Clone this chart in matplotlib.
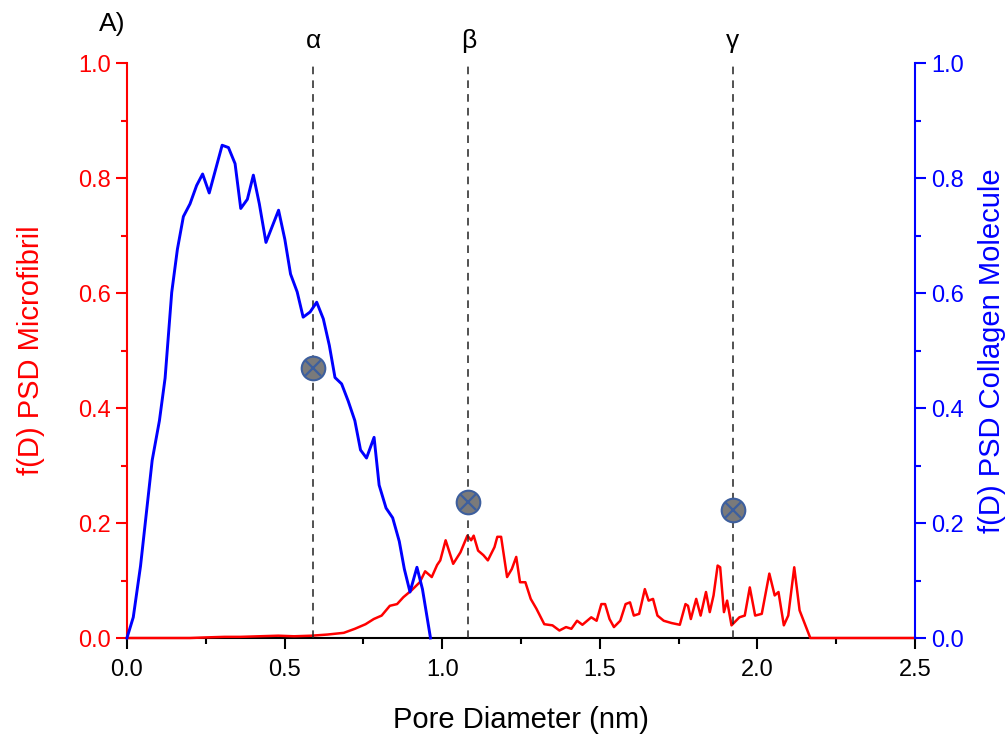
import matplotlib
matplotlib.use("Agg")
import matplotlib.pyplot as plt
from matplotlib.ticker import MultipleLocator, FormatStrFormatter

plt.rcParams['font.family'] = ['Liberation Sans', 'DejaVu Sans']

# Pore size distribution of the collagen molecule (right axis)
collagen_d = [0.0, 0.02, 0.043, 0.080, 0.103, 0.121, 0.142, 0.160, 0.179, 0.200,
              0.221, 0.240, 0.261, 0.302, 0.322, 0.343, 0.361, 0.382, 0.401, 0.420,
              0.441, 0.481, 0.501, 0.519, 0.540, 0.559, 0.581, 0.602, 0.623, 0.642,
              0.660, 0.681, 0.702, 0.723, 0.741, 0.760, 0.784, 0.800, 0.822, 0.843,
              0.864, 0.880, 0.898, 0.920, 0.9375, 0.963]
collagen_f = [0.0, 0.036, 0.125, 0.309, 0.378, 0.452, 0.601, 0.676, 0.733, 0.755,
              0.787, 0.807, 0.774, 0.857, 0.853, 0.825, 0.747, 0.763, 0.805, 0.755,
              0.688, 0.744, 0.693, 0.633, 0.602, 0.558, 0.567, 0.584, 0.555, 0.509,
              0.453, 0.442, 0.412, 0.378, 0.327, 0.313, 0.349, 0.266, 0.226, 0.209,
              0.168, 0.120, 0.080, 0.123, 0.085, 0.0]

# Pore size distribution of the microfibril (left axis)
fibril_d = [0.0, 0.10, 0.20, 0.25, 0.31, 0.36, 0.42, 0.48, 0.53, 0.585,
            0.636, 0.688, 0.723, 0.757, 0.783, 0.808, 0.834, 0.857, 0.877, 0.903,
            0.929, 0.946, 0.967, 0.984, 0.994, 1.011, 1.035, 1.058, 1.080, 1.092,
            1.100, 1.114, 1.131, 1.145, 1.166, 1.175, 1.187, 1.206, 1.221, 1.235,
            1.247, 1.264, 1.281, 1.299, 1.324, 1.350, 1.372, 1.393, 1.410, 1.428,
            1.445, 1.473, 1.490, 1.505, 1.517, 1.531, 1.545, 1.565, 1.582, 1.596,
            1.608, 1.625, 1.643, 1.655, 1.669, 1.683, 1.703, 1.728, 1.754, 1.772,
            1.780, 1.789, 1.806, 1.820, 1.837, 1.849, 1.861, 1.874, 1.882, 1.894,
            1.904, 1.918, 1.943, 1.960, 1.976, 1.993, 2.014, 2.038, 2.055, 2.067,
            2.084, 2.098, 2.117, 2.134, 2.168, 2.30, 2.50]
fibril_f = [0.0, 0.0, 0.0, 0.001, 0.002, 0.002, 0.003, 0.004, 0.003, 0.004,
            0.006, 0.009, 0.016, 0.024, 0.033, 0.039, 0.056, 0.059, 0.071, 0.083,
            0.097, 0.116, 0.106, 0.127, 0.135, 0.170, 0.129, 0.149, 0.178, 0.170,
            0.178, 0.152, 0.144, 0.135, 0.158, 0.176, 0.176, 0.106, 0.120, 0.141,
            0.097, 0.097, 0.068, 0.051, 0.024, 0.022, 0.013, 0.019, 0.016, 0.030,
            0.023, 0.036, 0.030, 0.059, 0.059, 0.033, 0.019, 0.030, 0.059, 0.062,
            0.039, 0.042, 0.085, 0.065, 0.068, 0.039, 0.030, 0.026, 0.023, 0.059,
            0.056, 0.033, 0.068, 0.039, 0.080, 0.045, 0.074, 0.126, 0.123, 0.045,
            0.065, 0.022, 0.036, 0.039, 0.088, 0.039, 0.042, 0.112, 0.074, 0.080,
            0.022, 0.039, 0.123, 0.048, 0.0, 0.0, 0.0]

# Characteristic pore sizes
peak_labels = ['α', 'β', 'γ']
peak_d = [0.591, 1.083, 1.922]
peak_f = [0.469, 0.237, 0.222]

fig = plt.figure(figsize=(10.06, 7.38), dpi=100)
ax = fig.add_axes([0.1262, 0.1355, 0.7833, 0.7791])
ax2 = ax.twinx()

red = '#ff0000'
blue = '#0000ff'

ax.plot(fibril_d, fibril_f, color=red, lw=1.8, zorder=3, clip_on=False)
ax2.plot(collagen_d, collagen_f, color=blue, lw=2.1, zorder=3, clip_on=False)

for lab, d, f in zip(peak_labels, peak_d, peak_f):
    ax2.plot([d, d], [0, 1.0], ls=(0, (5, 4)), color='#222222', lw=1.1, zorder=2)
    ax2.plot(d, f, 'o', ms=17, mfc='#7a7a7a', mec='#3d5f9e', mew=1.5, zorder=5)
    ax2.plot(d, f, 'x', ms=11.5, mec='#3d5f9e', mew=1.6, zorder=6)
    ax2.annotate(lab, (d, 1.0), xytext=(0, 7), textcoords='offset points',
                 ha='center', va='bottom', fontsize=19, color='black')

fig.text(0.112, 0.968, 'A)', fontsize=19, ha='center', va='center')

for a in (ax, ax2):
    a.set_xlim(0, 2.5)
    a.set_ylim(0, 1.0)
    a.spines['top'].set_visible(False)

ax.spines['right'].set_visible(False)
ax.spines['left'].set_color(red)
ax.spines['left'].set_linewidth(1.5)
ax.spines['bottom'].set_color('black')
ax.spines['bottom'].set_linewidth(1.5)
ax2.spines['left'].set_visible(False)
ax2.spines['bottom'].set_visible(False)
ax2.spines['right'].set_color(blue)
ax2.spines['right'].set_linewidth(1.5)

ax.xaxis.set_major_locator(MultipleLocator(0.5))
ax.xaxis.set_minor_locator(MultipleLocator(0.25))
ax.xaxis.set_major_formatter(FormatStrFormatter('%.1f'))
for a in (ax, ax2):
    a.yaxis.set_major_locator(MultipleLocator(0.2))
    a.yaxis.set_minor_locator(MultipleLocator(0.1))
    a.yaxis.set_major_formatter(FormatStrFormatter('%.1f'))

ax.tick_params(axis='x', which='major', direction='out', length=8, width=1.5,
               labelsize=17, colors='black', pad=7)
ax.tick_params(axis='x', which='minor', direction='out', length=4, width=1.5,
               colors='black')
ax.tick_params(axis='y', which='major', direction='out', length=8, width=1.5,
               labelsize=17, colors=red)
ax.tick_params(axis='y', which='minor', direction='out', length=4, width=1.5,
               colors=red)
ax2.tick_params(axis='y', which='major', direction='out', length=8, width=1.5,
                labelsize=17, colors=blue)
ax2.tick_params(axis='y', which='minor', direction='out', length=4, width=1.5,
                colors=blue)

ax.set_xlabel('Pore Diameter (nm)', fontsize=21, labelpad=18)
ax.set_ylabel('f(D) PSD Microfibril', fontsize=21, color=red, labelpad=24)
ax2.set_ylabel('f(D) PSD Collagen Molecule', fontsize=21, color=blue,
               labelpad=10)

fig.savefig('out.png', dpi=100)
